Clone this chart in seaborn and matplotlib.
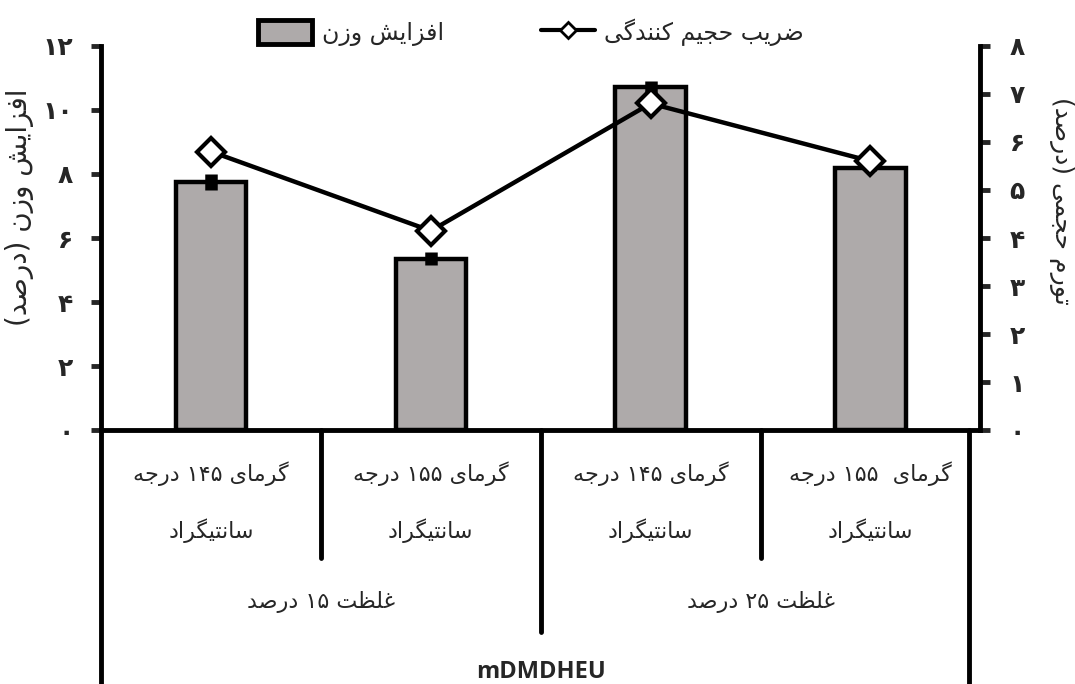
import re
import numpy as np
import pandas as pd
import matplotlib
matplotlib.use('Agg')
import matplotlib.pyplot as plt
from matplotlib.lines import Line2D
from matplotlib.patches import Patch
import seaborn as sns

sns.set_theme(style='ticks')
plt.rcParams['font.family'] = ['DejaVu Sans']

# values
temps = ['گرمای ۱۴۵ درجه', 'گرمای ۱۵۵ درجه', 'گرمای ۱۴۵ درجه', 'گرمای  ۱۵۵ درجه']
unit_row = ['سانتیگراد', 'سانتیگراد', 'سانتیگراد', 'سانتیگراد']
groups = ['غلظت ۱۵ درصد', 'غلظت ۲۵ درصد']
treatment = 'mDMDHEU'
weight_gain = [7.75, 5.35, 10.7, 8.2]
weight_err = [0.25, 0.2, 0.2, 0.1]
bulking = [5.8, 4.15, 6.8, 5.6]
left_ticks = [0, 2, 4, 6, 8, 10, 12]
right_ticks = [0, 1, 2, 3, 4, 5, 6, 7, 8]
weight_label = 'افزایش وزن'
bulk_label = 'ضریب حجیم کنندگی'
left_title = 'افزایش وزن (درصد)'
right_title = 'تورم حجمی (درصد)'

# matplotlib has no arabic shaping, so pick presentation forms by hand
# isolated, final, initial, medial
FORMS = {
    'ا': ('\uFE8D', '\uFE8E', None, None),
    'ب': ('\uFE8F', '\uFE90', '\uFE91', '\uFE92'),
    'ت': ('\uFE95', '\uFE96', '\uFE97', '\uFE98'),
    'ج': ('\uFE9D', '\uFE9E', '\uFE9F', '\uFEA0'),
    'ح': ('\uFEA1', '\uFEA2', '\uFEA3', '\uFEA4'),
    'د': ('\uFEA9', '\uFEAA', None, None),
    'ر': ('\uFEAD', '\uFEAE', None, None),
    'ز': ('\uFEAF', '\uFEB0', None, None),
    'س': ('\uFEB1', '\uFEB2', '\uFEB3', '\uFEB4'),
    'ش': ('\uFEB5', '\uFEB6', '\uFEB7', '\uFEB8'),
    'ص': ('\uFEB9', '\uFEBA', '\uFEBB', '\uFEBC'),
    'ض': ('\uFEBD', '\uFEBE', '\uFEBF', '\uFEC0'),
    'ظ': ('\uFEC5', '\uFEC6', '\uFEC7', '\uFEC8'),
    'غ': ('\uFECD', '\uFECE', '\uFECF', '\uFED0'),
    'ف': ('\uFED1', '\uFED2', '\uFED3', '\uFED4'),
    'ل': ('\uFEDD', '\uFEDE', '\uFEDF', '\uFEE0'),
    'م': ('\uFEE1', '\uFEE2', '\uFEE3', '\uFEE4'),
    'ن': ('\uFEE5', '\uFEE6', '\uFEE7', '\uFEE8'),
    'ه': ('\uFEE9', '\uFEEA', '\uFEEB', '\uFEEC'),
    'و': ('\uFEED', '\uFEEE', None, None),
    'ک': ('\uFB8E', '\uFB8F', '\uFB90', '\uFB91'),
    'گ': ('\uFB92', '\uFB93', '\uFB94', '\uFB95'),
    'ی': ('\uFBFC', '\uFBFD', '\uFBFE', '\uFBFF'),
}


def shape(text):
    out = []
    for i, c in enumerate(text):
        f = FORMS.get(c)
        if f is None:
            out.append(c)
            continue
        prev = text[i - 1] if i > 0 else ''
        nxt = text[i + 1] if i + 1 < len(text) else ''
        a = prev in FORMS and FORMS[prev][2] is not None
        b = f[2] is not None and nxt in FORMS
        if a and b:
            out.append(f[3])
        elif a:
            out.append(f[1])
        elif b:
            out.append(f[2])
        else:
            out.append(f[0])
    vis = ''.join(out)[::-1]
    vis = re.sub(r'[0-9\u06F0-\u06F9]+', lambda m: m.group(0)[::-1], vis)
    return vis.translate(str.maketrans('()', ')('))


def fa(n):
    return str(n).translate(str.maketrans('0123456789', '۰۱۲۳۴۵۶۷۸۹'))


bar_color = '#aeaaaa'
lw = 3.5
fs = 16
df = pd.DataFrame({'pos': np.arange(len(weight_gain)), 'weight': weight_gain, 'bulk': bulking})

fig = plt.figure(figsize=(10.75, 6.84), dpi=100)
ax = fig.add_axes([0.094, 0.371, 0.818, 0.562])
sns.barplot(data=df, x='pos', y='weight', color=bar_color, saturation=1,
            edgecolor='black', linewidth=3.2, width=0.32, ax=ax)
ax.errorbar(df['pos'], weight_gain, yerr=weight_err, fmt='none',
            ecolor='black', elinewidth=9, capsize=0, zorder=1)

ax2 = ax.twinx()
sns.lineplot(data=df, x='pos', y='bulk', ax=ax2, color='black', linewidth=3.2,
             marker='D', markersize=14, markerfacecolor='white',
             markeredgecolor='black', markeredgewidth=3)

ax.set_xlim(-0.5, 3.5)
ax.set_ylim(0, 12)
ax2.set_ylim(0, 8)
ax.set_yticks(left_ticks)
ax.set_yticklabels([fa(t) for t in left_ticks], fontsize=18, fontweight='bold')
ax2.set_yticks(right_ticks)
ax2.set_yticklabels([fa(t) for t in right_ticks], fontsize=18, fontweight='bold')
ax.tick_params(axis='y', left=True, direction='out', length=7, width=lw, pad=13)
ax2.tick_params(axis='y', right=True, direction='out', length=7, width=lw, pad=14)
ax.tick_params(axis='x', bottom=False, labelbottom=False)
ax.set_xlabel('')
ax.set_ylabel('')
ax2.set_ylabel('')
ax2.set_xlabel('')

for a in (ax, ax2):
    for s in a.spines.values():
        s.set_linewidth(lw)
        s.set_color('black')
    a.spines['top'].set_visible(False)
ax.spines['right'].set_visible(False)
ax2.spines['left'].set_visible(False)
ax2.spines['bottom'].set_visible(False)

# category table below the axis
tr = ax.get_xaxis_transform()
for i in range(len(temps)):
    ax.text(i, -0.112, shape(temps[i]), transform=tr, ha='center', va='center', fontsize=fs)
    ax.text(i, -0.26, shape(unit_row[i]), transform=tr, ha='center', va='center', fontsize=fs)
for g in range(len(groups)):
    ax.text(2 * g + 0.5, -0.448, shape(groups[g]), transform=tr, ha='center', va='center', fontsize=fs)
ax.text(1.5, -0.63, treatment, transform=tr, ha='center', va='center',
        fontsize=17, fontweight='bold', family='Open Sans')

for xv, yb in [(0.5, -0.333), (2.5, -0.333), (1.5, -0.526), (-0.5, -0.7), (3.45, -0.7)]:
    ax.plot([xv, xv], [0, yb], transform=tr, color='black', lw=lw, clip_on=False)

fig.text(0.018, 0.697, shape(left_title), rotation=90, ha='center', va='center', fontsize=20)
fig.text(0.987, 0.707, shape(right_title), rotation=270, ha='center', va='center', fontsize=18)

handles = [Patch(facecolor=bar_color, edgecolor='black', linewidth=lw),
           Line2D([], [], color='black', lw=3, marker='D', markersize=8,
                  markerfacecolor='white', markeredgecolor='black', markeredgewidth=2)]
fig.legend(handles, [shape(weight_label), shape(bulk_label)], ncol=2, loc='center',
           bbox_to_anchor=(0.494, 0.953), frameon=False, fontsize=17,
           columnspacing=4.1, handlelength=2.3, handleheight=1.2, handletextpad=0.4)

fig.savefig('out.png', dpi=100)
